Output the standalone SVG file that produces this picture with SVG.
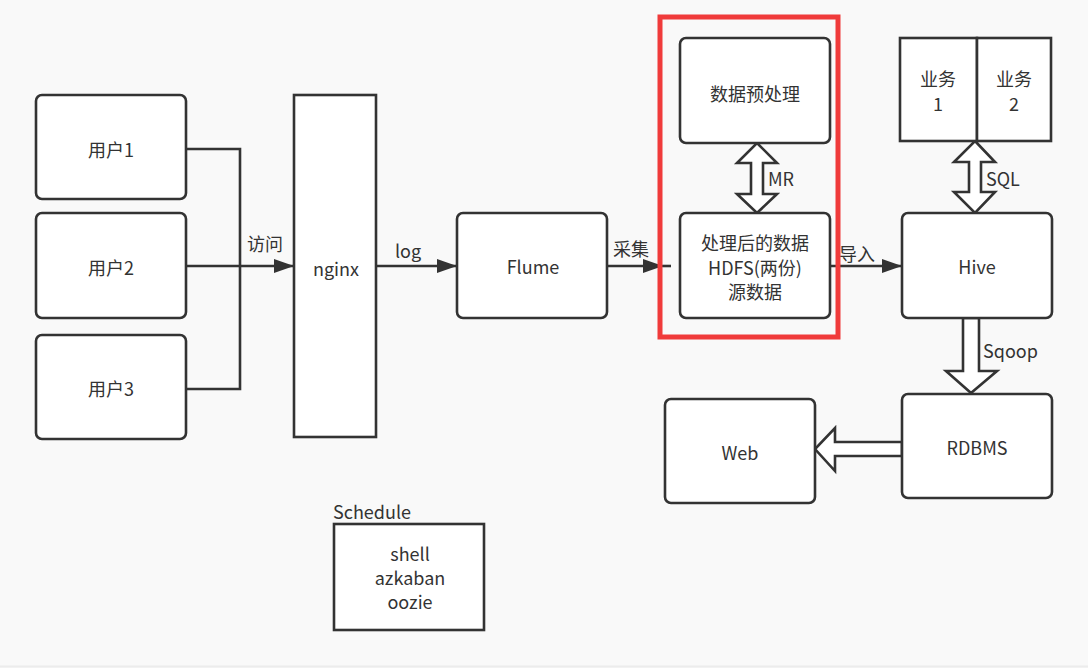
<svg xmlns="http://www.w3.org/2000/svg" width="1088" height="668" viewBox="0 0 1088 668">
<defs>
<style>
.n{fill:#fff;stroke:#333;stroke-width:2.6}
.t{font-family:"Noto Sans CJK SC","Microsoft YaHei","Noto Sans",sans-serif;font-size:18px;fill:#333;text-anchor:middle;dominant-baseline:central}
.l{font-family:"Noto Sans CJK SC","Microsoft YaHei","Noto Sans",sans-serif;font-size:18px;fill:#333;dominant-baseline:central}
.c{fill:none;stroke:#333;stroke-width:2.6}
.h{fill:#fff;stroke:#333;stroke-width:2.6;stroke-linejoin:miter}
</style>
<marker id="b" viewBox="0 0 20 14" refX="20" refY="7" markerWidth="20" markerHeight="14" markerUnits="userSpaceOnUse" orient="auto">
<path d="M0,0 L20,7 L0,14 Z" fill="#333"/>
</marker>
</defs>
<rect width="1088" height="668" fill="#f9f9f9"/>
<line x1="0" y1="666.5" x2="1088" y2="666.5" stroke="#ececec" stroke-width="2"/>

<g id="connectors">
<polyline class="c" points="186,149 240,149 240,389 186,389"/>
<line class="c" x1="186" y1="266" x2="294" y2="266" marker-end="url(#b)"/>
<text class="l" x="247" y="243">访问</text>
<line class="c" x1="376" y1="266" x2="457" y2="266" marker-end="url(#b)"/>
<text class="l" x="395" y="250">log</text>
<line class="c" x1="607" y1="266" x2="663" y2="266" marker-end="url(#b)"/>
<line class="c" x1="663" y1="266" x2="671" y2="266"/>
<text class="l" x="613" y="248">采集</text>
<line class="c" x1="830" y1="266" x2="902" y2="266" marker-end="url(#b)"/>
<text class="l" x="839" y="253">导入</text>
<path class="h" d="M757,143 L777,163 L763,163 L763,194 L777,194 L757,213 L737,194 L751,194 L751,163 L737,163 Z"/>
<text class="l" x="768" y="178">MR</text>
<path class="h" d="M975,141 L995,162 L981,162 L981,192 L995,192 L975,213 L954,192 L969,192 L969,162 L954,162 Z"/>
<text class="l" x="986" y="178">SQL</text>
<path class="h" d="M963,318 L979,318 L979,371 L997,371 L971,393 L946,371 L963,371 Z"/>
<text class="l" x="983" y="350">Sqoop</text>
<path class="h" d="M902,442 L835,442 L835,428 L815,449 L835,471 L835,456 L902,456 Z"/>
</g>

<g id="user1"><rect class="n" x="36" y="95" width="150" height="104" rx="6"/><text class="t" x="111" y="149">用户1</text></g>
<g id="user2"><rect class="n" x="36" y="213" width="150" height="105" rx="6"/><text class="t" x="111" y="267">用户2</text></g>
<g id="user3"><rect class="n" x="36" y="335" width="150" height="104" rx="6"/><text class="t" x="111" y="388">用户3</text></g>
<g id="nginx"><rect class="n" x="294" y="95" width="82" height="342"/><text class="t" x="336" y="268">nginx</text></g>
<g id="flume"><rect class="n" x="457" y="213" width="150" height="105" rx="6"/><text class="t" x="533" y="266">Flume</text></g>

<g id="highlight"><rect x="660" y="17" width="178" height="320" fill="none" stroke="#f03b3b" stroke-width="5"/></g>
<g id="preprocess"><rect class="n" x="680" y="38" width="150" height="105" rx="6"/><text class="t" x="755" y="93">数据预处理</text></g>
<g id="hdfs"><rect class="n" x="680" y="213" width="150" height="105" rx="6"/>
<text class="t" x="755" y="242">处理后的数据</text><text class="t" x="755" y="267">HDFS(两份)</text><text class="t" x="755" y="291">源数据</text></g>

<g id="biz1"><rect class="n" x="900" y="38" width="77" height="103" stroke-width="3"/><text class="t" x="938" y="78">业务</text><text class="t" x="938" y="103">1</text></g>
<g id="biz2"><rect class="n" x="977" y="38" width="74" height="103" stroke-width="2.2"/><text class="t" x="1014" y="78">业务</text><text class="t" x="1014" y="103">2</text></g>
<g id="hive"><rect class="n" x="902" y="213" width="150" height="105" rx="6"/><text class="t" x="977" y="266">Hive</text></g>
<g id="rdbms"><rect class="n" x="902" y="394" width="150" height="104" rx="6"/><text class="t" x="977" y="447">RDBMS</text></g>
<g id="web"><rect class="n" x="665" y="399" width="150" height="104" rx="6"/><text class="t" x="740" y="452">Web</text></g>

<g id="schedule"><text class="l" x="333" y="511">Schedule</text>
<rect class="n" x="334" y="524" width="150" height="106" stroke-width="3"/>
<text class="t" x="410" y="553">shell</text><text class="t" x="410" y="577">azkaban</text><text class="t" x="410" y="601">oozie</text></g>
</svg>
